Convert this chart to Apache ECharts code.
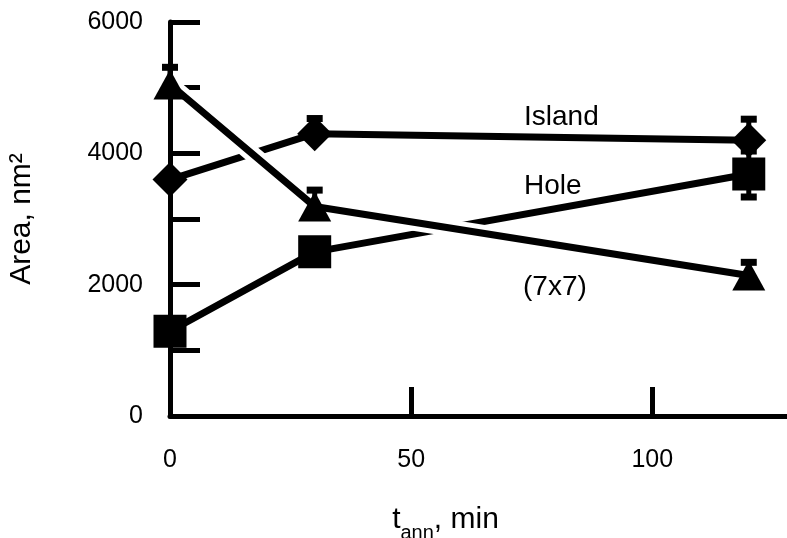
<!DOCTYPE html>
<html>
<head>
<meta charset="utf-8">
<script src="https://cdn.jsdelivr.net/npm/echarts@6/dist/echarts.min.js"></script>
<style>
html,body{margin:0;padding:0;background:#fff;}
#main{width:787px;height:538px;}
</style>
</head>
<body>
<div id="main"></div>
<script>
// ---- data ----
var times = [0, 30, 120];                 // t_ann, min
var islandArea = [3600, 4300, 4200];      // Island (diamond)
var holeArea = [1290, 2500, 3685];        // Hole (square)
var r7x7Area = [5050, 3190, 2140];        // (7x7) (triangle)
var islandErrPlus = [0, 230, 320];
var islandErrMinus = [0, 0, 0];
var holeErrPlus = [0, 0, 350];
var holeErrMinus = [0, 0, 350];
var r7x7ErrPlus = [260, 250, 200];
var r7x7ErrMinus = [0, 0, 0];
var xTicks = [0, 50, 100];
var yTickLabels = [0, 2000, 4000, 6000];
var seriesLabels = ['Island', 'Hole', '(7x7)'];

function pts(ys) { return times.map(function (t, i) { return [t, ys[i]]; }); }
function errData(ys, plus, minus) {
  return times.map(function (t, i) { return [t, ys[i], ys[i] - minus[i], ys[i] + plus[i]]; });
}
var allErr = errData(islandArea, islandErrPlus, islandErrMinus)
  .concat(errData(holeArea, holeErrPlus, holeErrMinus))
  .concat(errData(r7x7Area, r7x7ErrPlus, r7x7ErrMinus));

var FONT = '"Liberation Sans", Arial, sans-serif';
var chart = echarts.init(document.getElementById('main'), null, { renderer: 'canvas' });

var option = {
  backgroundColor: '#ffffff',
  animation: false,
  grid: { left: 170, top: 22, bottom: 122, width: 627, containLabel: false, outerBoundsMode: 'none' },
  xAxis: {
    type: 'value', min: 0, max: 130, interval: 50,
    name: '{m|t}{s|ann}{m|, min}',
    nameLocation: 'middle', nameGap: 89,
    nameTextStyle: {
      padding: [0, 76, 0, 0],
      rich: {
        m: { fontFamily: FONT, fontSize: 30, color: '#000', lineHeight: 30 },
        s: { fontFamily: FONT, fontSize: 20, color: '#000', lineHeight: 20, padding: [26, 0, 0, 0] }
      }
    },
    axisLine: { lineStyle: { color: '#000', width: 5 } },
    axisTick: { inside: true, length: 29, lineStyle: { color: '#000', width: 5 } },
    axisLabel: {
      margin: 32, fontFamily: FONT, fontSize: 25, color: '#000',
      formatter: function (v) { return xTicks.indexOf(v) >= 0 ? String(v) : ''; }
    },
    splitLine: { show: false }
  },
  yAxis: {
    type: 'value', min: 0, max: 6000, interval: 1000,
    name: 'Area, nm²', nameLocation: 'middle', nameGap: 133, nameRotate: 90,
    nameTextStyle: { fontFamily: FONT, fontSize: 30, color: '#000' },
    axisLine: { lineStyle: { color: '#000', width: 5 } },
    axisTick: { inside: true, length: 30, lineStyle: { color: '#000', width: 5 } },
    axisLabel: {
      margin: 27, fontFamily: FONT, fontSize: 25, color: '#000',
      formatter: function (v) { return yTickLabels.indexOf(v) >= 0 ? String(v) : ''; }
    },
    splitLine: { show: false }
  },
  series: [
    {
      name: seriesLabels[0], type: 'line', data: pts(islandArea), clip: false, z: 2,
      symbol: 'diamond', symbolSize: [35, 35],
      lineStyle: { color: '#000', width: 7 }, itemStyle: { color: '#000' }
    },
    {
      name: seriesLabels[1], type: 'line', data: pts(holeArea), clip: false, z: 2,
      symbol: 'rect', symbolSize: [33, 33],
      lineStyle: { color: '#000', width: 7 }, itemStyle: { color: '#000' }
    },
    {
      name: seriesLabels[2] + ' halo', type: 'line', data: pts(r7x7Area), clip: false, z: 2,
      symbol: 'none', silent: true,
      lineStyle: { color: '#fff', width: 17 }
    },
    {
      name: 'errors', type: 'custom', data: allErr, z: 3, clip: false,
      renderItem: function (params, api) {
        var x = api.value(0), y = api.value(1), lo = api.value(2), hi = api.value(3);
        var children = [];
        var hw = 8;
        if (hi > y) {
          var p0 = api.coord([x, y]), p1 = api.coord([x, hi]);
          children.push({ type: 'line', shape: { x1: p0[0], y1: p0[1], x2: p1[0], y2: p1[1] }, style: { stroke: '#000', lineWidth: 5 } });
          children.push({ type: 'line', shape: { x1: p1[0] - hw, y1: p1[1], x2: p1[0] + hw, y2: p1[1] }, style: { stroke: '#000', lineWidth: 7 } });
        }
        if (lo < y) {
          var q0 = api.coord([x, y]), q1 = api.coord([x, lo]);
          children.push({ type: 'line', shape: { x1: q0[0], y1: q0[1], x2: q1[0], y2: q1[1] }, style: { stroke: '#000', lineWidth: 5 } });
          children.push({ type: 'line', shape: { x1: q1[0] - hw, y1: q1[1], x2: q1[0] + hw, y2: q1[1] }, style: { stroke: '#000', lineWidth: 7 } });
        }
        return { type: 'group', children: children };
      }
    },
    {
      name: seriesLabels[2], type: 'line', data: pts(r7x7Area), clip: false, z: 3,
      symbol: 'triangle', symbolSize: [33, 30],
      lineStyle: { color: '#000', width: 7 }, itemStyle: { color: '#000' }
    }
  ],
  graphic: [
    { type: 'text', left: 524, top: 103, style: { text: seriesLabels[0], fontFamily: FONT, fontSize: 28, fill: '#000' } },
    { type: 'text', left: 524, top: 172, style: { text: seriesLabels[1], fontFamily: FONT, fontSize: 28, fill: '#000' } },
    { type: 'text', left: 523, top: 273, style: { text: seriesLabels[2], fontFamily: FONT, fontSize: 28, fill: '#000' } }
  ]
};
chart.setOption(option);
</script>
</body>
</html>
